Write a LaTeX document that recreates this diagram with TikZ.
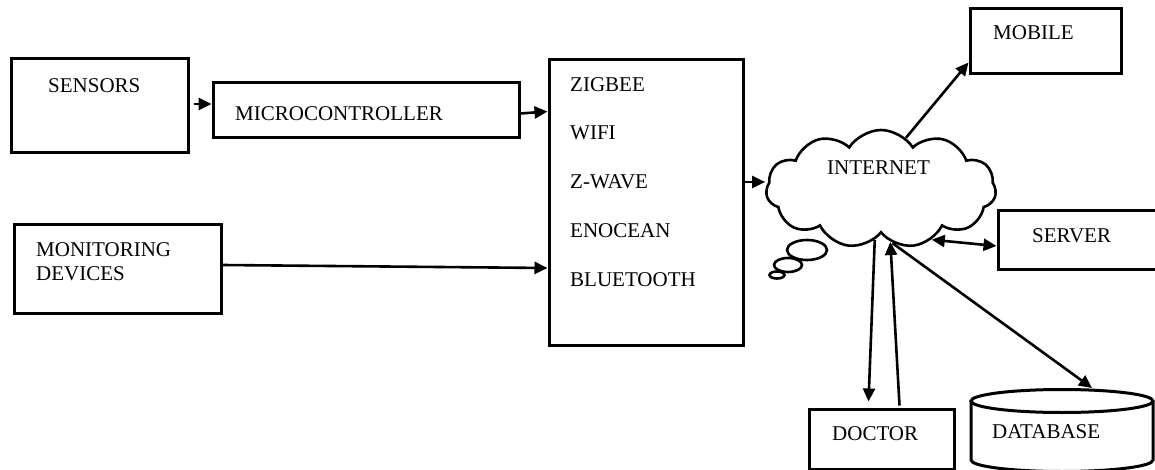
\documentclass[tikz,border=0pt]{standalone}
\usepackage{fontspec}
\setmainfont{Liberation Serif}
\usetikzlibrary{arrows.meta,shapes.symbols}

\tikzset{
  box/.style={draw,line width=3pt,rectangle,inner sep=0pt},
  txt/.style={anchor=west,inner sep=0pt,font=\fontsize{21}{24}\selectfont},
  arr/.style={line width=2.6pt,-{Triangle[length=13pt,width=12pt]}},
  biarr/.style={line width=2.6pt,{Triangle[length=13pt,width=12pt]}-{Triangle[length=13pt,width=12pt]}}
}

\begin{document}
\begin{tikzpicture}[x=1pt,y=-1pt]

\useasboundingbox (0,0) rectangle (1155,470);

% ---- the input side: sensors, microcontroller, monitoring devices ----
\node[box,minimum width=177pt,minimum height=94pt] (sens) at (99.5,106) {};
\node[txt] (senstxt) at (48,86) {SENSORS};

\node[box,minimum width=306pt,minimum height=55pt] (micro) at (366,110.5) {};
\node[txt] (microtxt) at (235,114) {MICROCONTROLLER};

\node[box,minimum width=207pt,minimum height=88pt] (moni) at (117.5,269) {};
\node[txt,align=left,anchor=north west] (monitxt) at (36,242)
  {MONITORING\\DEVICES};

% ---- the radio protocols box ----
\node[box,minimum width=194pt,minimum height=285pt] (proto) at (646,202.5) {};
\foreach \name/\y in {ZIGBEE/85,WIFI/133,Z-WAVE/182,ENOCEAN/231,BLUETOOTH/280}{
  \node[txt] at (570,\y) {\name};}

% ---- the internet cloud with its thought bubbles ----
\node[cloud,draw,line width=2.6pt,cloud puffs=11,cloud puff arc=115,
  cloud ignores aspect,minimum width=230pt,minimum height=118pt] (net) at (881,189) {};
\node[txt] (nettxt) at (827,168) {INTERNET};
\draw[line width=2.6pt,fill=white] (807,250) ellipse [x radius=20pt,y radius=10pt];
\draw[line width=2.6pt] (788,265) ellipse [x radius=14pt,y radius=7pt];
\draw[line width=2.6pt] (777,275) ellipse [x radius=7.5pt,y radius=3.5pt];

% ---- the output side: mobile, server, doctor, database ----
\node[box,minimum width=151pt,minimum height=65pt] (mobile) at (1045.5,41.5) {};
\node[txt] (mobiletxt) at (993,33) {MOBILE};

\node[box,minimum width=167pt,minimum height=58pt] (server) at (1081.5,240) {};
\node[txt] (servertxt) at (1032,236) {SERVER};

\node[box,minimum width=145pt,minimum height=60pt] (doctor) at (881.5,439) {};
\node[txt] (doctortxt) at (832,434) {DOCTOR};

\draw[line width=3pt] (971,401) -- (971,460)
  arc[start angle=180,end angle=360,x radius=91pt,y radius=11.5pt] -- (1153,401);
\draw[line width=3pt] (1062,401) ellipse [x radius=91pt,y radius=11.5pt];
\node[txt] (db) at (992,432) {DATABASE};
\coordinate (dbtop) at (1092,388);

% ---- connectors ----
\draw[arr] ([xshift=4pt,yshift=2pt]sens.east) -- ([yshift=2pt]sens.east -| micro.west);
\draw[arr] ([yshift=-3pt]micro.east) -- ([yshift=-1pt]micro.east -| proto.west);
\draw[arr] ([yshift=4pt]moni.east) -- ([yshift=1pt]moni.east -| proto.west);
\draw[arr] ([yshift=7pt]net.west -| proto.east) -- ([yshift=7pt]net.west);
\draw[arr] (net.64) -- ([yshift=13pt]mobile.south west);
\draw[biarr] (net.-45) -- ([yshift=-6pt]server.west);
\draw[arr] (net.-97) -- ([xshift=-13pt,yshift=6pt]doctor.north);
\draw[arr] ([xshift=18pt,yshift=2pt]doctor.north) -- (net.-80);
\draw[arr] (net.-78) -- (dbtop);

\end{tikzpicture}
\end{document}
